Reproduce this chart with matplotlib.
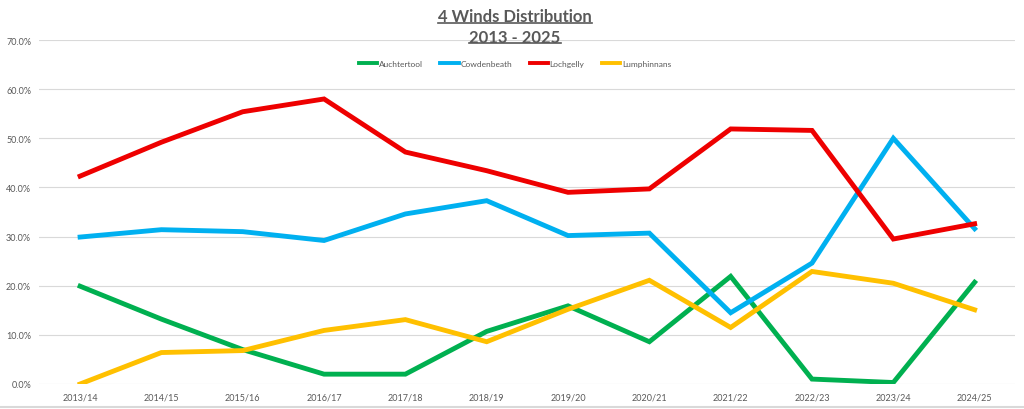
import numpy as np
from matplotlib import pyplot as plt
from matplotlib.lines import Line2D
from matplotlib.ticker import FuncFormatter

plt.rcParams['font.family'] = ['Lato', 'DejaVu Sans']

seasons = ['2013/14', '2014/15', '2015/16', '2016/17', '2017/18', '2018/19',
           '2019/20', '2020/21', '2021/22', '2022/23', '2023/24', '2024/25']

auchtertool = [19.9, 13.2, 7.0, 2.0, 2.0, 10.7, 15.9, 8.6, 21.9, 1.0, 0.3, 20.7]
cowdenbeath = [29.9, 31.4, 31.0, 29.2, 34.6, 37.3, 30.2, 30.7, 14.5, 24.6, 50.0, 31.6]
lochgelly = [42.3, 49.2, 55.4, 58.0, 47.2, 43.4, 39.0, 39.7, 51.9, 51.6, 29.5, 32.6]
lumphinnans = [0.0, 6.4, 6.8, 10.9, 13.1, 8.6, 15.2, 21.1, 11.5, 22.9, 20.5, 15.1]

grey = '#595959'

fig = plt.figure(figsize=(10.24, 4.10), dpi=100)
ax = fig.add_axes([0.0385, 0.061, 0.953, 0.839])

x = np.arange(len(seasons))
ax.plot(x, auchtertool, color='#00B050', lw=3.5, label='Auchtertool', solid_joinstyle='miter')
ax.plot(x, cowdenbeath, color='#00B0F0', lw=3.5, label='Cowdenbeath', solid_joinstyle='miter')
ax.plot(x, lochgelly, color='#EE0000', lw=3.5, label='Lochgelly', solid_joinstyle='miter')
ax.plot(x, lumphinnans, color='#FFC000', lw=3.5, label='Lumphinnans', solid_joinstyle='miter')

ax.set_xlim(-0.5, len(seasons) - 0.5)
ax.set_ylim(0, 70)
ax.set_yticks(np.arange(0, 71, 10))
ax.yaxis.set_major_formatter(FuncFormatter(lambda v, p: '%.1f%%' % v))
ax.set_xticks(x)
ax.set_xticklabels(seasons)
ax.tick_params(length=0, labelsize=6.5, colors=grey, pad=6)
ax.grid(axis='y', color='#D9D9D9', lw=0.8)
ax.set_axisbelow(True)
for s in ax.spines.values():
    s.set_visible(False)

leg = ax.legend(loc='center', bbox_to_anchor=(0.503, 0.842), bbox_transform=fig.transFigure,
                ncol=4, frameon=False, fontsize=6, labelcolor=grey,
                handlelength=2.2, handletextpad=0.2, columnspacing=2.1)
for h in leg.get_lines():
    h.set_linewidth(2.8)

# title with underline
t1 = fig.text(0.503, 0.958, '4 Winds Distribution', ha='center', va='center',
              fontsize=12, fontweight='bold', color=grey)
t2 = fig.text(0.503, 0.907, '2013 - 2025', ha='center', va='center',
              fontsize=12, fontweight='bold', color=grey)
fig.canvas.draw()
r = fig.canvas.get_renderer()
for t in (t1, t2):
    bb = t.get_window_extent(r).transformed(fig.transFigure.inverted())
    yl = bb.y0 + 0.004
    fig.add_artist(Line2D([bb.x0, bb.x1], [yl, yl], color=grey, lw=1.2))

# bottom border of chart area
fig.add_artist(Line2D([0, 1], [0.004, 0.004], color='#D9D9D9', lw=1.5))

plt.savefig('out.png', dpi=100)
